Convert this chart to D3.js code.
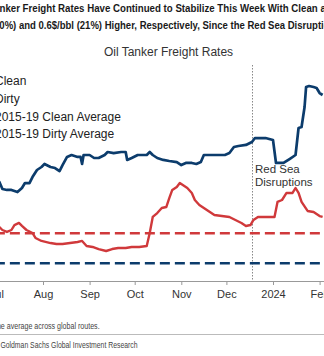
<!DOCTYPE html>
<html><head><meta charset="utf-8">
<script src="https://cdn.jsdelivr.net/npm/d3@7"></script>
<style>
html,body{margin:0;padding:0;background:#fff;overflow:hidden}
svg{display:block}
text{font-family:"Liberation Sans",Arial,Helvetica,sans-serif}
</style></head><body>
<svg id="chart" width="324" height="356"></svg>
<script>
// ---------- data ----------
const cleanDates = ["2023-06-30","2023-07-03","2023-07-05","2023-07-08","2023-07-11","2023-07-15","2023-07-18","2023-07-20","2023-07-23","2023-07-25","2023-07-28","2023-07-31","2023-08-02","2023-08-06","2023-08-09","2023-08-12","2023-08-14","2023-08-17","2023-08-20","2023-08-24","2023-08-26","2023-08-27","2023-08-28","2023-09-01","2023-09-04","2023-09-07","2023-09-11","2023-09-13","2023-09-17","2023-09-22","2023-09-25","2023-09-26","2023-09-29","2023-10-03","2023-10-09","2023-10-11","2023-10-13","2023-10-16","2023-10-20","2023-10-24","2023-10-29","2023-11-01","2023-11-04","2023-11-08","2023-11-11","2023-11-14","2023-11-16","2023-11-20","2023-11-26","2023-11-30","2023-12-03","2023-12-06","2023-12-09","2023-12-14","2023-12-18","2023-12-20","2023-12-27","2024-01-01","2024-01-03","2024-01-05","2024-01-08","2024-01-12","2024-01-16","2024-01-18","2024-01-20","2024-01-22","2024-01-23","2024-01-25","2024-01-28","2024-01-30","2024-02-01","2024-02-03"];
const cleanValues = [6.7,6.6,6.13,6.07,6.07,5.93,6.2,6.53,6.53,6.93,7.4,7.6,7.8,7.6,7.53,7.33,7.73,8.27,8.4,8.27,8.27,7.8,8.4,8.4,8.2,8.2,8.4,8.6,8.53,8.6,8.6,8.07,8.2,8.4,8.4,8.6,8.4,8.2,8.07,8.0,7.93,7.73,7.87,7.87,7.8,7.93,8.4,8.4,8.4,8.4,8.53,8.93,9.0,9.07,9.27,9.53,9.53,9.4,7.87,7.87,7.87,8.13,8.4,10.2,10.27,11.6,12.93,13.0,12.93,12.87,12.53,12.4];

const dirtyDates = ["2023-06-30","2023-07-03","2023-07-05","2023-07-08","2023-07-11","2023-07-13","2023-07-16","2023-07-18","2023-07-21","2023-07-25","2023-07-27","2023-07-31","2023-08-06","2023-08-10","2023-08-14","2023-08-19","2023-08-24","2023-08-27","2023-08-30","2023-09-03","2023-09-07","2023-09-12","2023-09-16","2023-09-20","2023-09-25","2023-09-29","2023-10-04","2023-10-09","2023-10-11","2023-10-13","2023-10-16","2023-10-19","2023-10-22","2023-10-24","2023-10-26","2023-10-29","2023-10-31","2023-11-02","2023-11-05","2023-11-08","2023-11-10","2023-11-13","2023-11-16","2023-11-20","2023-11-23","2023-11-28","2023-12-03","2023-12-07","2023-12-11","2023-12-14","2023-12-17","2023-12-19","2023-12-22","2023-12-27","2024-01-02","2024-01-04","2024-01-07","2024-01-10","2024-01-14","2024-01-16","2024-01-18","2024-01-20","2024-01-24","2024-01-28","2024-02-01","2024-02-03"];
const dirtyValues = [3.6,3.6,3.4,3.27,3.4,3.73,3.87,3.67,3.4,3.2,2.87,2.67,2.53,2.47,2.47,2.53,2.6,2.67,2.33,2.27,2.13,2.0,2.13,2.2,2.2,2.27,2.27,2.33,3.2,4.27,4.53,4.87,4.93,5.53,6.07,6.27,6.53,6.4,6.2,5.87,5.4,5.07,4.87,4.6,4.4,4.33,4.27,4.07,3.87,3.67,3.73,4.07,4.27,4.27,4.27,5.27,5.4,5.87,5.87,6.2,5.87,5.27,4.67,4.6,4.33,4.27];

const averageDates = ["2023-06-20","2024-02-15"];
const cleanAverage = [1.18,1.18];
const dirtyAverage = [3.18,3.18];

const legendLabels = ["Clean","Dirty","2015-19 Clean Average","2015-19 Dirty Average"];
const eventDate = "2023-12-18";
const eventLabel = ["Red Sea","Disruptions"];
const tickDates = ["2023-07-01","2023-08-01","2023-09-01","2023-10-01","2023-11-01","2023-12-01","2024-01-01","2024-02-01"];
const tickLabels = ["Jul","Aug","Sep","Oct","Nov","Dec","2024","Feb"];

const headline = ["Oil Tanker Freight Rates Have Continued to Stabilize This Week With Clean and Dirty",
                  "Rates 3.1$/bbl (40%) and 0.6$/bbl (21%) Higher, Respectively, Since the Red Sea Disruptions"];
const chartTitle = "Oil Tanker Freight Rates";
const note = "Note: Clean and dirty rates are the average across global routes.";
const source = "Source: Goldman Sachs Global Investment Research";

// ---------- setup ----------
const parse = d3.timeParse("%Y-%m-%d");
const svg = d3.select("#chart");
const BLUE = "#0c3c6c", RED = "#d0393b";

const x = d3.scaleTime().domain([parse("2023-08-01"), parse("2024-01-01")]).range([43, 273]);
const y = d3.scaleLinear().domain([0, 14.4]).range([281, 65]);

// text fit helper: place two character positions of a string at given x's
function measure(str, attrs) {
  if (!str.length) return 0;
  const t = svg.append("text").text(str).attr("visibility","hidden");
  for (const k in attrs) t.attr(k, attrs[k]);
  const w = t.node().getComputedTextLength();
  t.remove();
  return w;
}
function fitText(str, yb, idxA, xA, idxB, xB, attrs) {
  const oa = measure(str.slice(0, idxA), attrs), ob = measure(str.slice(0, idxB), attrs);
  const sx = (xB - xA) / (ob - oa);
  const x0 = xA - sx * oa;
  const t = svg.append("text").text(str);
  for (const k in attrs) t.attr(k, attrs[k]);
  t.attr("transform", `translate(${x0},${yb}) scale(${sx},1)`);
  return t;
}

// headline
const hAttrs = {"font-weight":"bold","font-size":"11.5px","fill":"#1a1a1a"};
fitText(headline[0], 12, headline[0].indexOf("nker"), -0.5, headline[0].indexOf("and Dirty"), 318, hAttrs);
fitText(headline[1], 29.3, headline[1].indexOf("0%)"), -0.5, headline[1].indexOf("ons"), 324.5, hAttrs);

// chart title
svg.append("text").attr("x", 168.5).attr("y", 55.5).attr("text-anchor","middle")
  .attr("font-size","12px").attr("fill","#333").text(chartTitle);

// legend
const legendY = [85.3, 103, 120.6, 138.2];
svg.append("g").selectAll("text").data(legendLabels).join("text")
  .attr("x", -5).attr("y", (d,i) => legendY[i])
  .attr("font-size","12px").attr("fill","#222").text(d => d);

// axis
const axisG = svg.append("g").attr("transform","translate(0,281)");
axisG.call(d3.axisBottom(x).tickValues(tickDates.map(parse)).tickSize(4).tickPadding(5)
  .tickFormat((d,i) => tickLabels[i]));
axisG.select(".domain").remove();
axisG.selectAll(".tick line").attr("stroke","#999");
axisG.selectAll(".tick text").attr("font-size","11px").attr("fill","#333").attr("font-family","Liberation Sans, Arial, sans-serif");
axisG.append("line").attr("x1",-10).attr("x2",334).attr("y1",0.5).attr("y2",0.5).attr("stroke","#999");

// event line
const ex = Math.round(x(parse(eventDate))) + 0.5;
svg.append("line").attr("x1",ex).attr("x2",ex).attr("y1",y(14.4)).attr("y2",281)
  .attr("stroke","#888").attr("stroke-width",1).attr("stroke-dasharray","1.5,1.5");
svg.append("g").selectAll("text").data(eventLabel).join("text")
  .attr("x", ex + 2.5).attr("y", (d,i) => 172.7 + i*12.8)
  .attr("font-size","11.5px").attr("fill","#333").text(d => d);

// averages
const avgLine = d3.line().x(d => x(d[0])).y(d => y(d[1]));
svg.append("path").datum(averageDates.map((d,i) => [parse(d), dirtyAverage[i]]))
  .attr("d", avgLine).attr("fill","none").attr("stroke",RED).attr("stroke-width",2.4).attr("stroke-dasharray","10,5");
svg.append("path").datum(averageDates.map((d,i) => [parse(d), cleanAverage[i]]))
  .attr("d", avgLine).attr("fill","none").attr("stroke",BLUE).attr("stroke-width",2.4).attr("stroke-dasharray","10,5");

// series
const line = d3.line().x(d => x(d[0])).y(d => y(d[1]));
svg.append("path").datum(dirtyDates.map((d,i) => [parse(d), dirtyValues[i]]))
  .attr("d", line).attr("fill","none").attr("stroke",RED).attr("stroke-width",2.4).attr("stroke-linejoin","round");
svg.append("path").datum(cleanDates.map((d,i) => [parse(d), cleanValues[i]]))
  .attr("d", line).attr("fill","none").attr("stroke",BLUE).attr("stroke-width",2.7).attr("stroke-linejoin","round");

// footer
const fAttrs = {"font-size":"8.5px","fill":"#444"};
fitText(note, 329.3, note.indexOf("average"), 5, note.length, 100, fAttrs);
svg.append("line").attr("x1",-10).attr("x2",334).attr("y1",334.5).attr("y2",334.5).attr("stroke","#bbb").attr("stroke-width",1);
fitText(source, 347.7, source.indexOf("Goldman"), -1.5, source.length, 137.7, fAttrs);
</script>
</body></html>
